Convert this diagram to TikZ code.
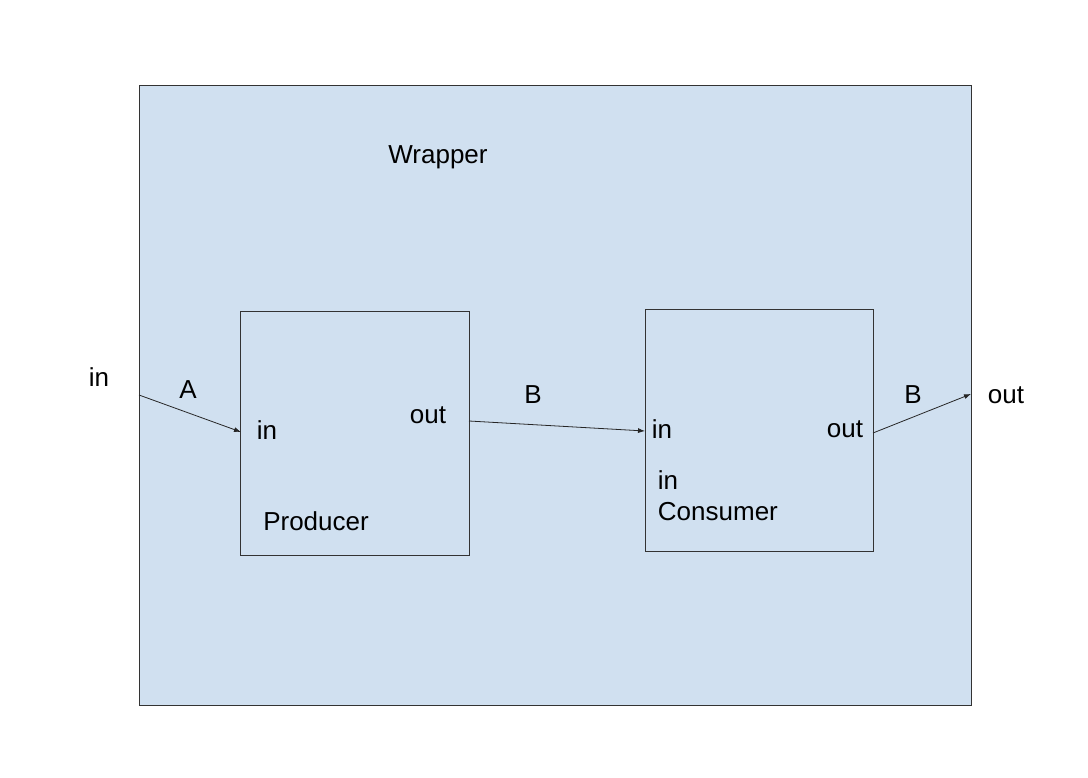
\documentclass[tikz,border=0pt]{standalone}
\usepackage{fontspec}
\setmainfont{Liberation Sans}
\usetikzlibrary{arrows.meta}
\definecolor{wrapfill}{RGB}{208,224,240}
\tikzset{
  lbl/.style={inner sep=0.75pt,font=\fontsize{26}{31}\selectfont},
  blk/.style={draw=black!80,line width=0.8pt},
  conn/.style={draw=black!85,line width=0.8pt,-{Latex[length=7pt,width=5pt]}}
}
\begin{document}
\begin{tikzpicture}[x=1pt,y=1pt,yscale=-1,xscale=1]
	\useasboundingbox (0,0) rectangle (1088,778);

	% Wrapper
	\draw [blk,fill=wrapfill] (139,85) rectangle (971,705);
	\node [lbl] (wrap) at (438,157) {Wrapper};

	% Producer
	\draw [blk] (240,311) rectangle (469,555);
	\node [lbl] (prod) at (316,521) {Producer};
	\node [lbl] (pin) at (267,430) {in};
	\node [lbl] (pout) at (428,415) {out};

	% Consumer
	\draw [blk] (645,309) rectangle (873,551);
	\node [lbl,align=left,anchor=north west] (cons) at (657,470) {in\\Consumer};
	\node [lbl] (cin) at (662,429) {in};
	\node [lbl] (cout) at (845,429) {out};

	% outer ports
	\node [lbl] (win) at (99,377) {in};
	\node [lbl] (wout) at (1006,395) {out};
	\node [lbl] (la) at (188,390) {A};
	\node [lbl] (lb1) at (533,395) {B};
	\node [lbl] (lb2) at (913,395) {B};

	\coordinate (a0) at (139,395);
	\coordinate (a1) at (241,432);
	\coordinate (b0) at (469,421);
	\coordinate (b1) at (645,431);
	\coordinate (c0) at (873,433);
	\coordinate (c1) at (971,394);

	% Connection
	\draw [conn] (a0) -- (a1);
	\draw [conn] (b0) -- (b1);
	\draw [conn] (c0) -- (c1);
\end{tikzpicture}
\end{document}
